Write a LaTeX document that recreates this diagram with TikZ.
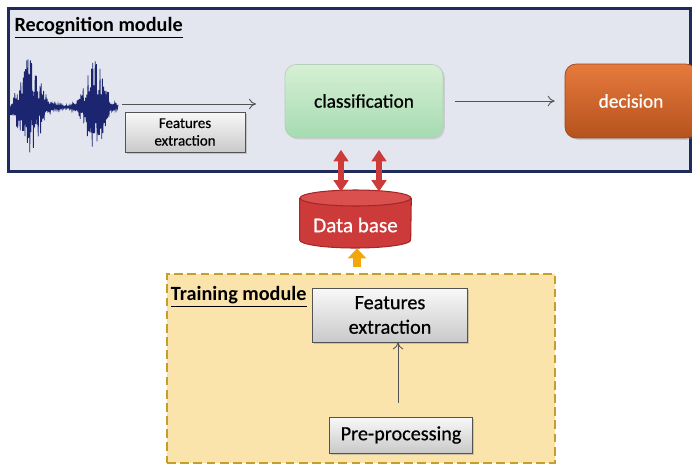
\documentclass[tikz,border=0pt]{standalone}
\usepackage{fontspec}
\setmainfont{Carlito}
\newfontfamily\semibold[FakeBold=0.6]{Carlito}
\usetikzlibrary{positioning,arrows.meta,shadows,calc}
\definecolor{recfill}{HTML}{E3E6EE}
\definecolor{recline}{HTML}{1E2C5C}
\definecolor{wavecol}{HTML}{1C2670}
\definecolor{clstop}{HTML}{D6F0D4}
\definecolor{clsbot}{HTML}{A6DBB0}
\definecolor{dectop}{HTML}{E67A3C}
\definecolor{decbot}{HTML}{B5521D}
\definecolor{dbred}{HTML}{CC3A3A}
\definecolor{dbtop}{HTML}{D9504E}
\definecolor{dbline}{HTML}{A52626}
\definecolor{trainfill}{HTML}{FBE4AC}
\definecolor{trainline}{HTML}{C69F28}
\definecolor{upgold}{HTML}{F2A60C}

\begin{document}
\begin{tikzpicture}[x=0.02cm,y=0.02cm]
        \tikzstyle{every node}+=[inner sep=0pt, font=\semibold\fontsize{11}{13}\selectfont]
        \tikzstyle{modtitle}=[font=\fontsize{11.5}{13}\selectfont\bfseries]
        \tikzstyle{graybox}=[draw=gray!65!black, top color=gray!5, bottom color=gray!42, align=center, drop shadow={shadow xshift=1pt,shadow yshift=-1pt,opacity=0.35}]
        \tikzstyle{thinarrow}=[draw=gray!65!black, line width=0.5pt, -{To[length=4pt,width=6pt]}]
        \tikzstyle{redarrow}=[draw=dbred, line width=1.1mm, {Triangle[width=2.9mm,length=2.3mm]}-{Triangle[width=2.9mm,length=2.3mm]}]
        \useasboundingbox (0,0) rectangle (692,468);
        % recognition module
        \node [draw=recline, fill=recfill, line width=1.5pt, minimum width=13.64cm, minimum height=3.26cm] (rec) at (349.5,378) {};
        \node [modtitle, below right=0.2cm and 0.14cm of rec.north west] (rectitle) {\underline{Recognition module}};
        \draw [wavecol!55, line width=0.6pt] (10,361) -- (118,361);
        \pgfmathsetseed{5}
        \draw [wavecol, line width=0.45pt] (10,361)
            \foreach \i [count=\k] in {10.6,11.2,...,118}{
              -- (\i,{361+(1-2*mod(\k,2))*(0.25+0.75*rnd)*(2+47*exp(-(\i-30)*(\i-30)/190)+44*exp(-(\i-95)*(\i-95)/150))}) };
        \coordinate (wend) at (122,364);
        \coordinate (aend) at (256,364);
        \draw [thinarrow] (wend) -- (aend);
        \node [graybox, minimum width=2.4cm, minimum height=0.8cm, font=\semibold\fontsize{8.5}{10}\selectfont] (feat1) at (185,336) {Features\\extraction};
        \node [draw=clsbot!80!black!60, top color=clstop, bottom color=clsbot, rounded corners=0.22cm, minimum width=3.16cm, minimum height=1.46cm, drop shadow={shadow xshift=1pt,shadow yshift=-1pt,opacity=0.25}] (cls) at (364,367) {classification};
        \node [draw=decbot!85!black, top color=dectop, bottom color=decbot, text=white, rounded corners=0.22cm, minimum width=2.64cm, minimum height=1.48cm, drop shadow={shadow xshift=1pt,shadow yshift=-1pt,opacity=0.3}] (dec) at (631,367) {decision};
        \draw [thinarrow, shorten <=0.24cm, shorten >=0.2cm] (cls.east) -- (dec.west);
        % data base
        \node [minimum width=2.22cm, minimum height=1.16cm] (db) at (355.5,249) {};
        \fill [dbred] (db.west |- 0,228) rectangle (db.east |- 0,270);
        \fill [dbred] (355.5,228) ellipse (55.5 and 8);
        \draw [dbline, line width=0.6pt] (db.west |- 0,270) -- (db.west |- 0,228) arc (180:360:55.5 and 8) -- (db.east |- 0,270);
        \draw [dbline, fill=dbtop, line width=0.6pt] (355.5,270) ellipse (55.5 and 8);
        \node [text=white, font=\semibold\fontsize{12}{14}\selectfont] (dbtext) at (355.5,243) {Data base};
        \draw [redarrow] ($(cls.south)+(-23,-12)$) -- ($(cls.south |- db.north)+(-23,-2)$);
        \draw [redarrow] ($(cls.south)+(15,-12)$) -- ($(cls.south |- db.north)+(15,-2)$);
        % training module
        \node [draw=trainline, fill=trainfill, line width=1.6pt, dash pattern=on 5pt off 2.5pt, minimum width=7.76cm, minimum height=3.78cm] (train) at (361,99.5) {};
        \node [modtitle, below right=0.26cm and 0.1cm of train.north west] (traintitle) {\underline{Training module}};
        \draw [draw=upgold, line width=1.6mm, shorten <=0.12cm, -{Triangle[width=3.6mm,length=2mm]}] ($(db.south |- train.north)+(1.5,0)$) -- ($(db.south)+(1.5,0)$);
        \node [graybox, minimum width=3.1cm, minimum height=1.08cm, font=\semibold\fontsize{11.5}{14}\selectfont] (feat2) at (390,153) {Features\\extraction};
        \node [graybox, minimum width=2.86cm, minimum height=0.72cm, font=\semibold\fontsize{11.5}{14}\selectfont] (pre) at (401,33) {Pre-processing};
        \draw [thinarrow] ($(pre.north)+(-3,14)$) -- ($(pre.north |- feat2.south)+(-3,0)$);
    \end{tikzpicture}
\end{document}
